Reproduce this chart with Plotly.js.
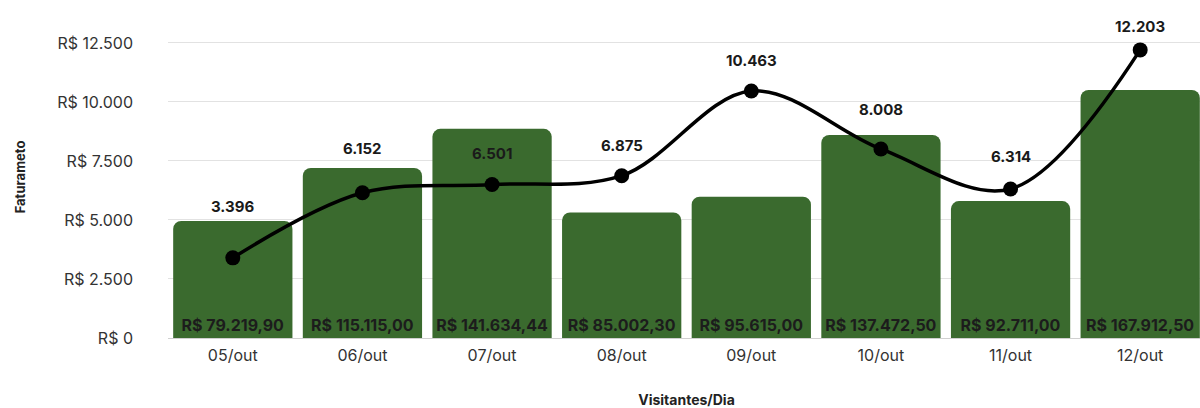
<!DOCTYPE html>
<html>
<head>
<meta charset="utf-8">
<script src="https://cdn.plot.ly/plotly-3.0.1.min.js"></script>
<style>
html,body{margin:0;padding:0;overflow:hidden;background:#fff;}
#chart{width:1210px;height:408px;}
</style>
</head>
<body>
<div id="chart"></div>
<script>
const categories = ["05/out","06/out","07/out","08/out","09/out","10/out","11/out","12/out"];
const faturamento = [79219.90, 115115.00, 141634.44, 85002.30, 95615.00, 137472.50, 92711.00, 167912.50];
const visitantes = [3396, 6152, 6501, 6875, 10463, 8008, 6314, 12203];
const yTickVals = [0, 2500, 5000, 7500, 10000, 12500];
const labelShift = [51, 44, 31, 30, 31, 39, 32, 23];

const FONT = "Inter, 'Noto Sans', sans-serif";
const fmt = v => v.toLocaleString("pt-BR");

const bars = {
  type: "bar",
  x: categories,
  y: faturamento,
  yaxis: "y",
  marker: {color: "#3a6a2e", cornerradius: 8},
  width: 0.92,
  texttemplate: "R$ %{y:,.2f}",
  textposition: "inside",
  insidetextanchor: "start",
  constraintext: "none",
  textangle: 0,
  insidetextfont: {family: FONT, size: 16, color: "#1c1c1c", weight: 700},
  hoverinfo: "skip",
  showlegend: false
};

const line = {
  type: "scatter",
  mode: "lines+markers",
  x: categories,
  y: visitantes,
  yaxis: "y2",
  line: {color: "#000", width: 3.5, shape: "spline", smoothing: 1},
  marker: {color: "#000", size: 15},
  showlegend: false,
  cliponaxis: false
};

const annotations = categories.map((c, i) => ({
  x: c, y: visitantes[i], xref: "x", yref: "y2",
  text: fmt(visitantes[i]),
  showarrow: false, yanchor: "middle", yshift: labelShift[i],
  font: {family: FONT, size: 15, color: "#1a1a1a", weight: 700}
}));

const layout = {
  width: 1210, height: 408,
  margin: {l: 168, r: 5, t: 16, b: 70},
  paper_bgcolor: "#fff", plot_bgcolor: "#fff",
  separators: ",.",
  font: {family: FONT, size: 16, color: "#333"},
  bargap: 0.08,
  xaxis: {
    type: "category",
    tickfont: {family: FONT, size: 16, color: "#333"},
    ticks: "", showgrid: false, zeroline: false, showline: false,
    ticklabelstandoff: 6,
    title: {text: "Visitantes/Dia", font: {family: FONT, size: 14, color: "#222", weight: 700}, standoff: 38}
  },
  yaxis: {
    range: [0, 218000],
    showgrid: false, zeroline: false, showticklabels: false, showline: false,
    ticks: ""
  },
  yaxis2: {
    overlaying: "y", side: "left",
    range: [0, 13640],
    tickvals: yTickVals,
    ticktext: yTickVals.map(v => "R$ " + fmt(v)),
    tickfont: {family: FONT, size: 16, color: "#333"},
    showgrid: true, gridcolor: "#e2e2e2", gridwidth: 1,
    zeroline: true, zerolinecolor: "#d0d0d0", zerolinewidth: 1,
    showline: false,
    ticklabelstandoff: 34,
    title: {text: "Faturameto", font: {family: FONT, size: 13, color: "#222", weight: 700}, standoff: 28}
  },
  annotations: annotations
};

Plotly.newPlot("chart", [bars, line], layout, {displayModeBar: false, staticPlot: true});
</script>
</body>
</html>
